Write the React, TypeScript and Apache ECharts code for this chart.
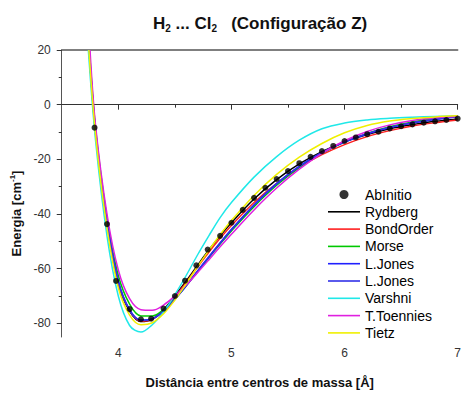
import React, { useEffect, useRef } from "react";
import * as echarts from "echarts";

// Distances (Å) where the model curves are sampled
const distances = [3.8, 3.9, 4.0, 4.1, 4.2, 4.3, 4.4, 4.5, 4.6, 4.7, 4.8, 4.9, 5.0, 5.2, 5.4, 5.6, 5.8, 6.0, 6.2, 6.4, 6.6, 6.8, 7.0];

// Ab initio points
const abInitioX = [3.79, 3.9, 3.98, 4.1, 4.2, 4.29, 4.4, 4.5, 4.59, 4.69, 4.79, 4.9, 5.0, 5.1, 5.2, 5.3, 5.4, 5.5, 5.6, 5.7, 5.8, 5.9, 6.0, 6.1, 6.2, 6.3, 6.4, 6.5, 6.6, 6.7, 6.8, 6.9, 7.0];
const abInitioY = [-8.4, -43.7, -64.5, -74.8, -78.5, -78.3, -74.6, -70.0, -64.4, -58.8, -53.0, -48.0, -43.2, -38.5, -34.1, -30.4, -27.2, -24.3, -21.4, -19.1, -17.0, -15.1, -13.3, -12.0, -10.8, -9.9, -8.7, -7.9, -7.2, -6.6, -6.1, -5.6, -5.1];

// Model fits (energies at `distances`)
const rydberg = [-11, -43.5, -65.5, -75.5, -79.3, -78.5, -75, -70, -64.5, -58.8, -53.2, -48, -43.2, -34.5, -27.4, -21.7, -17.2, -13.6, -10.9, -8.8, -7.3, -6.1, -5.2];
const bondOrder = [-10.5, -43, -65, -75.3, -79.2, -78.6, -75.4, -70.5, -65, -59.5, -54, -48.9, -44.2, -35.8, -28.8, -23, -18.3, -14.6, -11.7, -9.5, -7.8, -6.6, -5.6];
const morse = [-9, -41.5, -62.5, -73, -77.3, -77.3, -75, -71, -66.3, -61.2, -56, -51, -46.2, -37.3, -29.5, -23, -17.8, -13.7, -10.5, -8.1, -6.3, -5, -4.1];
const lJones1 = [-10, -42.8, -64.5, -75, -78.8, -78.3, -75.6, -71.3, -66.3, -61, -55.8, -50.7, -45.8, -36.8, -29, -22.6, -17.6, -13.7, -10.7, -8.4, -6.7, -5.4, -4.4];
const lJones2 = [-10.2, -43, -64.7, -75.2, -78.9, -78.4, -75.5, -71.1, -66.1, -60.8, -55.6, -50.5, -45.6, -36.6, -28.8, -22.5, -17.5, -13.6, -10.6, -8.3, -6.6, -5.3, -4.4];
const varshni = [-13.5, -48, -70, -80.8, -83.2, -80.5, -75.8, -69.5, -62.5, -55, -48, -41.3, -35.8, -26.5, -19, -13, -8.8, -6.7, -5.6, -5.0, -4.6, -4.3, -4.1];
const tToennies = [-8, -40, -60.5, -71, -75, -75.2, -73.3, -70, -66, -61.5, -56.8, -52, -47.4, -38.5, -30.5, -23.6, -17.8, -13.2, -9.8, -7.4, -5.8, -4.8, -4.2];
const tietz = [-11.5, -45, -67, -77, -80.5, -79.8, -76.5, -71.5, -65.5, -59.3, -53.3, -47.6, -42.4, -33.2, -25.5, -19.2, -14.2, -10.3, -7.6, -6, -5.1, -4.5, -4.1];

// Distance at which each curve leaves the top of the frame (energy = 20)
const wallTop = [3.742, 3.742, 3.745, 3.742, 3.742, 3.735, 3.75, 3.74];

const modelNames = ["Rydberg", "BondOrder", "Morse", "L.Jones", "L.Jones ", "Varshni", "T.Toennies", "Tietz"];
const modelValues = [rydberg, bondOrder, morse, lJones1, lJones2, varshni, tToennies, tietz];
const modelColors = ["#000000", "#ff2020", "#00c800", "#2020ff", "#3030e8", "#20e8e8", "#e020e0", "#f0f000"];

const xMajor = [4, 5, 6, 7];
const xMinor = [4.5, 5.5, 6.5];
const yMajor = [-80, -60, -40, -20, 0, 20];
const yMinor = [-70, -50, -30, -10, 10];

const FONT = "'Liberation Sans', Arial, sans-serif";
const LINE_ICON = "path://M0,0H32V1.6H0Z";

export default function App() {
  const ref = useRef<HTMLDivElement>(null);
  useEffect(() => {
    document.body.style.margin = "0";
    if (!ref.current) return;
    const chart = echarts.init(ref.current, null, { renderer: "svg" });

    const lineSeries = modelNames.map((name, k) => ({
      name,
      type: "line",
      xAxisIndex: 0,
      yAxisIndex: 0,
      data: [[wallTop[k], 20], ...distances.map((d, i) => [d, modelValues[k][i]])],
      smooth: 0.35,
      symbol: "none",
      clip: true,
      lineStyle: { color: modelColors[k], width: 1.5 },
      itemStyle: { color: modelColors[k] },
      z: 2,
    }));

    const option = {
      animation: false,
      backgroundColor: "#ffffff",
      title: {
        left: 148,
        top: 8,
        text: "{m|H}{s|2}{m| ... Cl}{s|2}{m|   (Configuração Z)}",
        textStyle: {
          rich: {
            m: { fontSize: 17, fontWeight: "bold", fontFamily: FONT, color: "#111", lineHeight: 20 },
            s: { fontSize: 10, fontWeight: "bold", fontFamily: FONT, color: "#111", lineHeight: 10, verticalAlign: "bottom" },
          },
        },
      },
      grid: { left: 59, right: -1, top: 50, bottom: 41, containLabel: false },
      legend: {
        orient: "vertical",
        left: 328,
        top: 187.5,
        padding: 0,
        itemWidth: 32,
        itemHeight: 9,
        itemGap: 3.3,
        formatter: (n: string) => n.trim(),
        textStyle: { fontSize: 14, color: "#000", fontFamily: FONT, lineHeight: 14 },
        data: [
          { name: "AbInitio", icon: "circle" },
          ...modelNames.map((n, k) => ({ name: n, icon: LINE_ICON, itemStyle: { color: modelColors[k] } })),
        ],
      },
      xAxis: [
        {
          type: "value",
          min: 3.5,
          max: 7,
          position: "bottom",
          name: "Distância entre centros de massa [Å]",
          nameLocation: "middle",
          nameGap: 39,
          nameTextStyle: { fontSize: 13, fontWeight: "bold", fontFamily: FONT, color: "#111" },
          axisLine: { show: true, lineStyle: { color: "#333", width: 1 } },
          axisTick: { show: true, length: 5, customValues: xMajor, lineStyle: { color: "#333" } },
          axisLabel: { customValues: xMajor, color: "#333", fontSize: 12, fontFamily: FONT, margin: 10 },
          splitLine: { show: false },
        },
        {
          type: "value",
          min: 3.5,
          max: 7,
          position: "bottom",
          axisLine: { show: false },
          axisTick: { show: true, length: 3, customValues: xMinor, lineStyle: { color: "#333" } },
          axisLabel: { show: false },
          splitLine: { show: false },
        },
        {
          type: "value",
          min: 3.5,
          max: 7,
          position: "top",
          axisLine: { show: true, lineStyle: { color: "#555", width: 1.5 } },
          axisTick: { show: false },
          axisLabel: { show: false },
          splitLine: { show: false },
        },
      ],
      yAxis: [
        {
          type: "value",
          min: -85,
          max: 20,
          position: "left",
          name: "{n|Energia [cm}{p|-1}{n|]}",
          nameLocation: "middle",
          nameGap: 37,
          nameTextStyle: {
            padding: [0, 40, 0, 0],
            rich: {
              n: { fontSize: 13, fontWeight: "bold", fontFamily: FONT, color: "#111", lineHeight: 16 },
              p: { fontSize: 8, fontWeight: "bold", fontFamily: FONT, color: "#111", lineHeight: 8, verticalAlign: "top" },
            },
          },
          axisLine: { show: true, lineStyle: { color: "#555", width: 1 } },
          axisTick: { show: true, length: 5, customValues: yMajor, lineStyle: { color: "#333" } },
          axisLabel: { customValues: yMajor, color: "#333", fontSize: 12, fontFamily: FONT, margin: 11 },
          splitLine: { show: false },
        },
        {
          type: "value",
          min: -85,
          max: 20,
          position: "left",
          axisLine: { show: false },
          axisTick: { show: true, length: 3, customValues: yMinor, lineStyle: { color: "#333" } },
          axisLabel: { show: false },
          splitLine: { show: false },
        },
      ],
      series: [
        ...lineSeries,
        {
          name: "AbInitio",
          type: "scatter",
          xAxisIndex: 0,
          yAxisIndex: 0,
          data: abInitioX.map((x, i) => [x, abInitioY[i]]),
          symbol: "circle",
          symbolSize: 6,
          itemStyle: { color: "#000" },
          z: 5,
        },
      ],
    };
    chart.setOption(option as any);
    return () => chart.dispose();
  }, []);
  return (
    <div
      ref={ref}
      style={{ position: "fixed", left: 0, top: 0, width: 464, height: 394, background: "#fff" }}
    />
  );
}
